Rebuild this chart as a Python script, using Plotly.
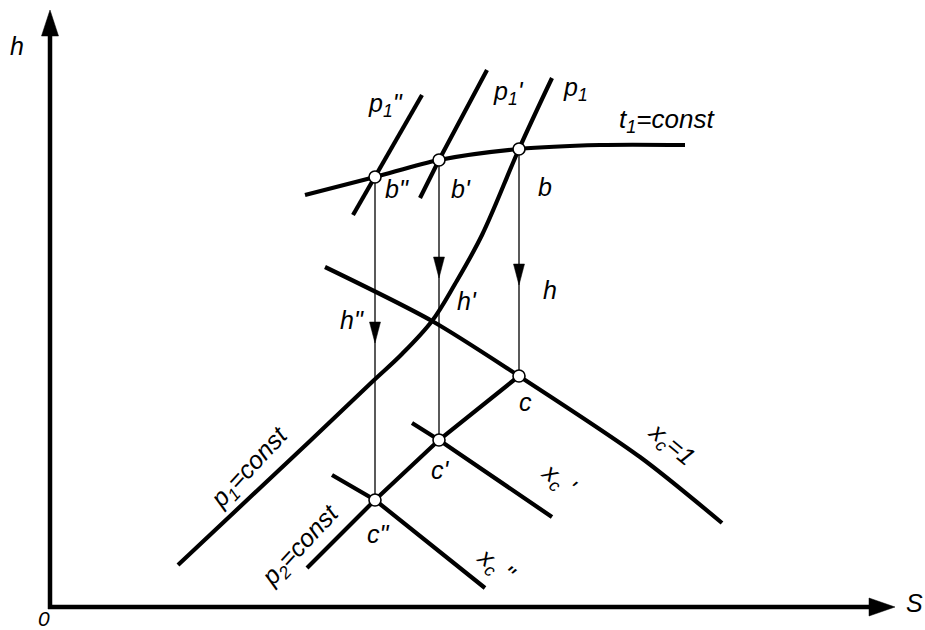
import plotly.graph_objects as go

# h-S diagram (entropy S, enthalpy h), schematic units
# isotherm t1 = const through b'', b', b
t1_S = [255, 325, 389, 469, 550, 635]
t1_h = [412, 430, 447, 458, 462, 462]

# isobar p1 through b, h' and down to lower left
p1_S = [502, 469, 432, 405, 382, 352, 322, 260, 128]
p1_h = [529, 458, 372, 323, 286, 253, 225, 166, 42]

# short isobars p1' and p1''
p1a_S = [437, 389, 370]
p1a_h = [537, 447, 409]
p1b_S = [372, 325, 303]
p1b_h = [512, 430, 392]

# dryness line xc = 1
xc1_S = [275, 382, 469, 590, 672]
xc1_h = [340, 286, 231, 150, 84]

# isobar p2 = const through c'', c', c
p2_S = [257, 325, 389, 469]
p2_h = [39, 107, 167, 231]

# dryness lines xc' and xc''
xca_S = [362, 389, 502]
xca_h = [184, 167, 90]
xcb_S = [282, 325, 435]
xcb_h = [132, 107, 19]

# state points
pt_names = ["b''", "b'", "b", "c", "c'", "c''"]
pt_S = [325, 389, 469, 469, 389, 325]
pt_h = [430, 447, 458, 231, 167, 107]

# expansion paths b -> c (vertical), with arrow tip heights
path_S = [325, 389, 469]
path_top = [430, 447, 458]
path_bot = [107, 167, 231]
path_arrow_tip = [264, 329, 322]

axis_S_max = 845
axis_h_max = 597

BLACK = "#000000"
FONT = "Liberation Sans, Arial, sans-serif"
LW = 4.2

fig = go.Figure()


def add_line(xs, ys, width=LW, shape="spline", smoothing=0.8):
    fig.add_trace(go.Scatter(x=xs, y=ys, mode="lines",
                             line=dict(color=BLACK, width=width, shape=shape,
                                       smoothing=smoothing),
                             hoverinfo="skip"))


def add_triangle(tx, ty, dx, dy, length, half):
    # filled arrowhead with tip (tx, ty) pointing along (dx, dy)
    bx, by = tx - dx * length, ty - dy * length
    px, py = -dy, dx
    xs = [tx, bx + px * half, bx - px * half, tx]
    ys = [ty, by + py * half, by - py * half, ty]
    fig.add_trace(go.Scatter(x=xs, y=ys, mode="lines", fill="toself",
                             fillcolor=BLACK, line=dict(color=BLACK, width=0.5),
                             hoverinfo="skip"))


# axes with arrows
add_line([0, 0], [-2, axis_h_max - 22], width=4.5, shape="linear")
add_triangle(0, axis_h_max, 0, 1, 26, 8.5)
add_line([-2, axis_S_max - 22], [0, 0], width=4.5, shape="linear")
add_triangle(axis_S_max, 0, 1, 0, 26, 9)

# thin vertical process lines with arrows
for s, top, bot, tip in zip(path_S, path_top, path_bot, path_arrow_tip):
    add_line([s, s], [top, bot], width=1.3, shape="linear")
    add_triangle(s, tip, 0, -1, 21, 5.5)

# property curves
add_line(t1_S, t1_h)
add_line(p1_S, p1_h, smoothing=1.0)
add_line(p1a_S, p1a_h, shape="linear")
add_line(p1b_S, p1b_h, shape="linear")
add_line(xc1_S, xc1_h)
add_line(p2_S, p2_h, shape="linear")
add_line(xca_S, xca_h, shape="linear")
add_line(xcb_S, xcb_h, shape="linear")

# state point markers
fig.add_trace(go.Scatter(x=pt_S, y=pt_h, mode="markers", text=pt_names,
                         marker=dict(size=12, color="white",
                                     line=dict(color=BLACK, width=1.6)),
                         hoverinfo="text"))

# labels: (text, S, h, angle, size)
labels = [
    ("h", -33, 561, 0, 25),
    ("S", 864, 4, 0, 25),
    ("0", -6, -11, 0, 21),
    ('p<sub>1</sub>"', 335, 502, 0, 25),
    ("p<sub>1</sub>'", 458, 514, 0, 25),
    ("p<sub>1</sub>", 525, 518, 0, 25),
    ("t<sub>1</sub>=const", 617, 487, 0, 26),
    ('b"', 347, 418, 0, 25),
    ("b'", 411, 418, 0, 25),
    ("b", 495, 420, 0, 25),
    ("h", 500, 317, 0, 25),
    ("h'", 417, 306, 0, 25),
    ('h"', 302, 287, 0, 25),
    ("c", 475, 205, 0, 25),
    ("c'", 390, 137, 0, 25),
    ('c"', 328, 73, 0, 25),
    ("p<sub>1</sub>=const", 200, 139, -47, 25),
    ("p<sub>2</sub>=const", 251, 61, -47, 25),
    ("x<sub>c</sub>=1", 621, 162, 40, 25),
    ("x<sub>c</sub> '", 508, 127, 38, 25),
    ('x<sub>c</sub> "', 445, 41, 38, 25),
]
for txt, s, h, ang, size in labels:
    fig.add_annotation(x=s, y=h, xref="x", yref="y", text="<i>" + txt + "</i>",
                       showarrow=False, textangle=ang,
                       xanchor="center", yanchor="middle",
                       font=dict(family=FONT, size=size, color=BLACK))

fig.update_layout(
    width=925, height=630,
    margin=dict(l=0, r=0, t=0, b=0),
    paper_bgcolor="white", plot_bgcolor="white",
    showlegend=False,
    xaxis=dict(range=[-50, 875], visible=False, fixedrange=True),
    yaxis=dict(range=[-23, 607], visible=False, fixedrange=True),
)

fig.write_html("out.html")
